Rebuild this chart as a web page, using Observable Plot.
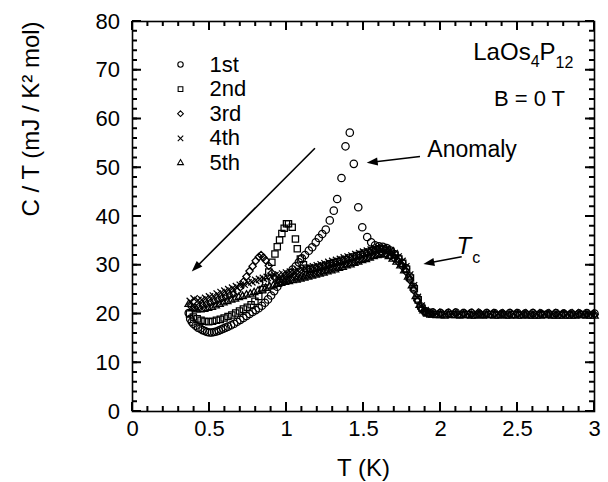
<!DOCTYPE html>
<html><head><meta charset="utf-8">
<script src="https://cdn.jsdelivr.net/npm/d3@7"></script>
<script src="https://cdn.jsdelivr.net/npm/@observablehq/plot@0.6"></script>
<style>html,body{margin:0;padding:0;background:#fff;}#chart{width:608px;height:482px;}</style>
</head><body><div id="chart"></div>
<script>
// ---- data: [T (K), C/T (mJ/K^2 mol)] per measurement run ----
const run1 = [[0.365,20.2],[0.375,19.0],[0.385,18.4],[0.395,18.0],[0.41,17.6],[0.425,17.2],[0.44,17.0],[0.455,16.7],[0.47,16.5],[0.485,16.3],[0.5,16.2],[0.515,16.2],[0.53,16.3],[0.545,16.4],[0.56,16.6],[0.575,16.8],[0.59,17.0],[0.605,17.2],[0.62,17.4],[0.64,17.7],[0.66,18.0],[0.68,18.4],[0.7,18.8],[0.72,19.2],[0.74,19.6],[0.76,20.0],[0.78,20.4],[0.8,20.8],[0.82,21.2],[0.84,21.7],[0.86,22.3],[0.88,23.0],[0.9,23.8],[0.92,24.7],[0.94,25.6],[0.96,26.4],[0.98,27.1],[1.0,27.8],[1.02,28.4],[1.04,29.1],[1.06,29.8],[1.08,30.6],[1.1,31.4],[1.12,32.1],[1.145,33.0],[1.167,33.7],[1.19,34.7],[1.21,35.6],[1.232,36.4],[1.255,37.3],[1.281,39.2],[1.307,41.2],[1.329,43.6],[1.357,47.9],[1.383,54.4],[1.411,57.2],[1.437,50.8],[1.466,41.9],[1.492,37.8],[1.524,35.8],[1.55,34.7],[1.575,34.1],[1.6,33.9],[1.625,33.8],[1.65,33.5],[1.675,33.0],[1.7,32.3],[1.725,31.4],[1.75,30.5],[1.775,29.4],[1.8,27.7],[1.825,25.6],[1.85,23.2],[1.875,21.5],[1.9,20.6],[1.925,20.3],[1.95,20.3],[2.0,20.2],[2.05,20.2],[2.1,20.3],[2.15,20.2],[2.2,20.2],[2.25,20.1],[2.3,20.2],[2.35,20.2],[2.4,20.1],[2.45,20.2],[2.5,20.2],[2.55,20.1],[2.6,20.2],[2.65,20.1],[2.7,20.1],[2.75,20.2],[2.8,20.1],[2.85,20.1],[2.9,20.1],[2.95,20.2],[3.0,20.1]];
const run2 = [[0.37,20.0],[0.395,19.4],[0.42,19.0],[0.445,18.7],[0.47,18.5],[0.495,18.4],[0.52,18.5],[0.545,18.7],[0.57,18.9],[0.595,19.2],[0.62,19.5],[0.645,19.8],[0.67,20.2],[0.695,20.6],[0.72,21.0],[0.745,21.4],[0.77,21.9],[0.795,22.6],[0.82,23.6],[0.845,25.0],[0.865,26.6],[0.885,28.6],[0.905,30.6],[0.925,32.3],[0.94,33.8],[0.955,35.2],[0.97,36.5],[0.985,37.6],[1.0,38.5],[1.013,38.5],[1.037,37.8],[1.058,35.4],[1.07,33.4],[1.09,31.3],[1.11,30.1],[1.13,29.4],[1.155,29.2],[1.18,29.4],[1.205,29.6],[1.23,29.8],[1.255,30.0],[1.28,30.3],[1.305,30.5],[1.33,30.7],[1.355,31.0],[1.38,31.2],[1.405,31.5],[1.43,31.7],[1.455,32.0],[1.48,32.2],[1.505,32.5],[1.53,32.7],[1.555,33.0],[1.58,33.2],[1.605,33.4],[1.63,33.4],[1.655,33.1],[1.68,32.7],[1.705,32.1],[1.73,31.3],[1.755,30.4],[1.78,29.2],[1.805,27.4],[1.83,25.2],[1.855,22.9],[1.88,21.2],[1.905,20.4],[1.93,20.0],[1.975,19.9],[2.025,19.8],[2.075,19.9],[2.125,19.8],[2.175,19.9],[2.225,19.8],[2.275,19.8],[2.325,19.9],[2.375,19.8],[2.425,19.8],[2.475,19.9],[2.525,19.8],[2.575,19.8],[2.625,19.8],[2.675,19.9],[2.725,19.8],[2.775,19.8],[2.825,19.8],[2.875,19.8],[2.925,19.9],[2.975,19.8]];
const run3 = [[0.38,21.6],[0.405,21.3],[0.43,21.5],[0.455,21.8],[0.48,22.0],[0.505,22.3],[0.53,22.6],[0.555,22.9],[0.58,23.2],[0.605,23.5],[0.63,23.8],[0.655,24.1],[0.68,24.6],[0.7,25.5],[0.72,26.6],[0.74,27.7],[0.76,28.8],[0.78,29.8],[0.8,30.9],[0.82,31.7],[0.835,32.1],[0.85,31.6],[0.865,31.0],[0.885,29.9],[0.905,28.4],[0.925,27.4],[0.95,26.9],[0.975,27.0],[1.0,27.1],[1.025,27.3],[1.05,27.5],[1.075,27.6],[1.1,27.8],[1.125,28.0],[1.15,28.2],[1.175,28.4],[1.2,28.6],[1.225,28.8],[1.25,29.0],[1.275,29.3],[1.3,29.5],[1.325,29.7],[1.35,29.9],[1.375,30.2],[1.4,30.4],[1.425,30.6],[1.45,30.9],[1.475,31.1],[1.5,31.4],[1.525,31.6],[1.55,31.9],[1.575,32.2],[1.6,32.4],[1.625,32.5],[1.65,32.3],[1.675,31.9],[1.7,31.4],[1.725,30.7],[1.75,29.8],[1.775,28.7],[1.8,27.0],[1.825,24.9],[1.85,22.7],[1.875,21.1],[1.9,20.4],[1.925,20.1],[1.95,20.0],[2.0,20.0],[2.05,19.9],[2.1,20.0],[2.15,20.0],[2.2,19.9],[2.25,20.0],[2.3,19.9],[2.35,20.0],[2.4,20.0],[2.45,19.9],[2.5,20.0],[2.55,19.9],[2.6,19.9],[2.65,20.0],[2.7,19.9],[2.75,19.9],[2.8,20.0],[2.85,19.9],[2.9,19.9],[2.95,19.9],[3.0,19.9]];
const run4 = [[0.375,22.6],[0.4,23.1],[0.425,22.8],[0.45,22.9],[0.475,23.2],[0.5,23.5],[0.525,23.7],[0.55,24.1],[0.575,24.4],[0.6,24.7],[0.625,25.0],[0.65,25.3],[0.675,25.6],[0.7,25.9],[0.725,26.1],[0.75,26.4],[0.775,26.6],[0.8,26.9],[0.825,27.1],[0.85,27.3],[0.875,27.5],[0.9,27.7],[0.925,27.9],[0.95,28.0],[0.975,28.2],[1.0,28.4],[1.025,28.6],[1.05,28.7],[1.075,28.9],[1.1,29.1],[1.125,29.3],[1.15,29.5],[1.175,29.7],[1.2,29.9],[1.225,30.1],[1.25,30.3],[1.275,30.6],[1.3,30.8],[1.325,31.0],[1.35,31.2],[1.375,31.5],[1.4,31.7],[1.425,31.9],[1.45,32.2],[1.475,32.4],[1.5,32.7],[1.525,32.9],[1.55,33.1],[1.575,33.4],[1.6,33.6],[1.625,33.6],[1.65,33.4],[1.675,33.0],[1.7,32.4],[1.725,31.7],[1.75,30.8],[1.775,29.7],[1.8,28.0],[1.825,25.8],[1.85,23.4],[1.875,21.6],[1.9,20.7],[1.925,20.4],[1.975,20.4],[2.025,20.3],[2.075,20.4],[2.125,20.3],[2.175,20.3],[2.225,20.4],[2.275,20.3],[2.325,20.3],[2.375,20.2],[2.425,20.3],[2.475,20.3],[2.525,20.2],[2.575,20.3],[2.625,20.3],[2.675,20.2],[2.725,20.3],[2.775,20.2],[2.825,20.2],[2.875,20.3],[2.925,20.2],[2.975,20.2]];
const run5 = [[0.365,22.0],[0.39,21.2],[0.415,20.9],[0.44,20.9],[0.465,21.0],[0.49,21.2],[0.515,21.4],[0.54,21.7],[0.565,22.0],[0.59,22.3],[0.615,22.6],[0.64,22.9],[0.665,23.1],[0.69,23.4],[0.715,23.6],[0.74,23.9],[0.765,24.1],[0.79,24.4],[0.815,24.7],[0.84,25.0],[0.865,25.3],[0.89,25.6],[0.915,25.8],[0.94,26.1],[0.965,26.3],[0.99,26.5],[1.015,26.7],[1.04,26.9],[1.065,27.0],[1.09,27.2],[1.115,27.4],[1.14,27.6],[1.165,27.8],[1.19,28.0],[1.215,28.2],[1.24,28.4],[1.265,28.7],[1.29,28.9],[1.315,29.1],[1.34,29.4],[1.365,29.6],[1.39,29.9],[1.415,30.1],[1.44,30.4],[1.465,30.7],[1.49,31.0],[1.515,31.2],[1.54,31.5],[1.565,31.8],[1.59,32.0],[1.615,32.2],[1.64,32.1],[1.665,31.8],[1.69,31.3],[1.715,30.7],[1.74,29.9],[1.765,28.9],[1.79,27.6],[1.815,25.8],[1.84,23.6],[1.865,21.8],[1.89,20.7],[1.915,20.0],[1.95,19.8],[2.0,19.7],[2.05,19.8],[2.1,19.7],[2.15,19.7],[2.2,19.6],[2.25,19.7],[2.3,19.7],[2.35,19.6],[2.4,19.7],[2.45,19.6],[2.5,19.6],[2.55,19.7],[2.6,19.6],[2.65,19.6],[2.7,19.7],[2.75,19.6],[2.8,19.6],[2.85,19.6],[2.9,19.7],[2.95,19.6],[3.0,19.6]];

const runNames = ["1st", "2nd", "3rd", "4th", "5th"];
const runSymbols = ["circle", "square2", "diamond2", "times", "triangle2"];

// axis ticks
const xMajor = [0, 0.5, 1, 1.5, 2, 2.5, 3];
const xMinor = [0,0.1,0.2,0.3,0.4,0.5,0.6,0.7,0.8,0.9,1,1.1,1.2,1.3,1.4,1.5,1.6,1.7,1.8,1.9,2,2.1,2.2,2.3,2.4,2.5,2.6,2.7,2.8,2.9,3];
const yMajor = [0, 10, 20, 30, 40, 50, 60, 70, 80];
const yMinor = [0,2,4,6,8,10,12,14,16,18,20,22,24,26,28,30,32,34,36,38,40,42,44,46,48,50,52,54,56,58,60,62,64,66,68,70,72,74,76,78,80];

// annotations (data coordinates)
const arrowFromT = [1.188, 1.870, 2.141];
const arrowFromC = [53.9, 52.2, 31.65];
const arrowToT = [0.388, 1.524, 1.892];
const arrowToC = [28.6, 50.9, 30.15];
const noteText = ["Anomaly", "B = 0 T"];
const noteT = [1.918, 2.812];
const noteC = [52.1, 62.6];
const noteAnchor = ["start", "end"];

const FONT = "'Liberation Sans', Arial, Helvetica, sans-serif";
const runs = [run1, run2, run3, run4, run5];
const dataR = [3.7, 4.0, 3.3, 3.4, 3.6];
const legR = [2.7, 3.0, 2.6, 2.6, 2.8];

const dotMarks = [];
for (let i = runs.length - 1; i >= 0; i--) {
  dotMarks.push(Plot.dot(runs[i], {x: d => d[0], y: d => d[1], symbol: runSymbols[i], r: dataR[i], stroke: "black", fill: "none", strokeWidth: 1.25}));
}
const legendMarks = [];
runNames.forEach((name, i) => {
  legendMarks.push(Plot.dot([name], {frameAnchor: "top-left", dx: 48, dy: 43 + 24.6 * i, symbol: runSymbols[i], r: legR[i], stroke: "black", fill: "none", strokeWidth: 1.1}));
  legendMarks.push(Plot.text([name], {frameAnchor: "top-left", dx: 77, dy: 43 + 24.6 * i, text: d => d, textAnchor: "start", lineAnchor: "middle", fontSize: 22}));
});

const plot = Plot.plot({
  width: 608, height: 482,
  marginLeft: 132, marginRight: 14, marginTop: 21, marginBottom: 71,
  style: {fontFamily: FONT, fontSize: "22px", color: "black", background: "white"},
  x: {domain: [0, 3]},
  y: {domain: [0, 80]},
  marks: [
    Plot.frame({stroke: "black", strokeWidth: 1.6, fill: "none"}),
    Plot.axisX(xMajor, {anchor: "bottom", tickSize: 0, tickPadding: 9, tickFormat: d => String(d), fontSize: 22, label: null}),
    Plot.axisY(yMajor, {anchor: "left", tickSize: 0, tickPadding: 12.5, tickFormat: d => String(d), fontSize: 22, label: null}),
    ...dotMarks,
    ...legendMarks,
    Plot.text(["T (K)"], {frameAnchor: "bottom", dy: 57, text: d => d, fontSize: 24, lineAnchor: "middle"}),
    Plot.text(["C / T (mJ / K² mol)"], {frameAnchor: "left", dx: -101, text: d => d, fontSize: 24, rotate: -90, lineAnchor: "middle"})
  ]
});
document.getElementById("chart").appendChild(plot);

// overlay: inward ticks, arrows and annotation texts placed through the plot's scales
const svg = d3.select(plot);
const sx = plot.scale("x"), sy = plot.scale("y");
const g = svg.append("g");
const xLo = sx.apply(0), xHi = sx.apply(3), yLo = sy.apply(0), yHi = sy.apply(80);
const majorLen = 9, minorLen = 5;
function tick(x1, y1, x2, y2) {
  g.append("line").attr("x1", x1).attr("y1", y1).attr("x2", x2).attr("y2", y2)
    .attr("stroke", "black").attr("stroke-width", 2);
}
[[xMinor, minorLen], [xMajor, majorLen]].forEach(([vals, len]) => vals.forEach(v => {
  const px = sx.apply(v);
  tick(px, yLo, px, yLo - len);
  tick(px, yHi, px, yHi + len);
}));
[[yMinor, minorLen], [yMajor, majorLen]].forEach(([vals, len]) => vals.forEach(v => {
  const py = sy.apply(v);
  tick(xLo, py, xLo + len, py);
  tick(xHi, py, xHi - len, py);
}));
arrowFromT.forEach((_, i) => {
  const x1 = sx.apply(arrowFromT[i]), y1 = sy.apply(arrowFromC[i]);
  const x2 = sx.apply(arrowToT[i]), y2 = sy.apply(arrowToC[i]);
  const dx = x2 - x1, dy = y2 - y1, len = Math.hypot(dx, dy);
  const ux = dx / len, uy = dy / len;
  const L = 11, HW = 4;
  const bx = x2 - ux * L, by = y2 - uy * L;
  g.append("line").attr("x1", x1).attr("y1", y1).attr("x2", bx + ux * 2).attr("y2", by + uy * 2)
    .attr("stroke", "black").attr("stroke-width", 1.6);
  g.append("polygon").attr("points", `${x2},${y2} ${bx - uy * HW},${by + ux * HW} ${bx + uy * HW},${by - ux * HW}`)
    .attr("fill", "black");
});
noteText.forEach((t, i) => {
  g.append("text").attr("x", sx.apply(noteT[i])).attr("y", sy.apply(noteC[i]))
    .attr("text-anchor", noteAnchor[i]).attr("font-size", i === 0 ? 23 : 22).attr("font-family", FONT).text(t);
});
// compound label LaOs4P12
const comp = g.append("text").attr("x", sx.apply(2.866)).attr("y", sy.apply(72.0))
  .attr("text-anchor", "end").attr("font-family", FONT).attr("font-size", 24);
comp.append("tspan").text("LaOs");
comp.append("tspan").attr("font-size", 16).attr("dy", 7).text("4");
comp.append("tspan").attr("dy", -7).text("P");
comp.append("tspan").attr("font-size", 16).attr("dy", 8).text("12");
// T_c
const tc = g.append("text").attr("x", sx.apply(2.184)).attr("y", sy.apply(32.2))
  .attr("font-family", FONT).attr("font-size", 24);
tc.append("tspan").attr("font-style", "italic").text("T");
tc.append("tspan").attr("font-size", 16).attr("dy", 9).attr("dx", 1).text("c");
</script>
</body></html>
